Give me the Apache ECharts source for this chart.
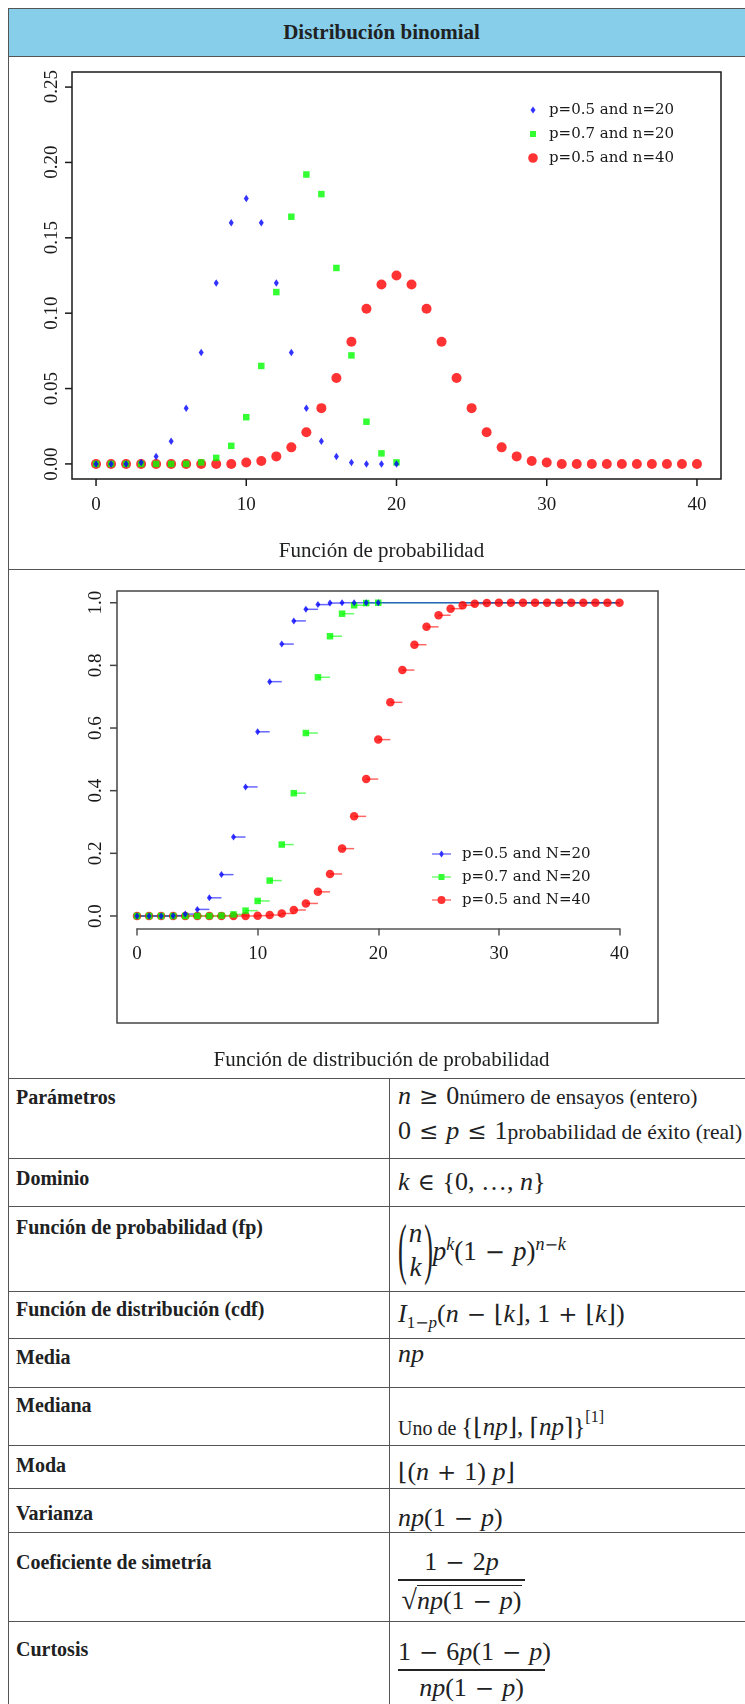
<!DOCTYPE html>
<html><head><meta charset="utf-8">
<script src="https://cdn.jsdelivr.net/npm/echarts@6/dist/echarts.min.js"></script>
<style>
html,body{margin:0;padding:0;background:#fff;}
body{width:745px;height:1704px;position:relative;overflow:hidden;font-family:"Liberation Serif","Times New Roman",serif;color:#202122;}
.hl{position:absolute;left:8px;width:760px;height:1.5px;background:#555;z-index:5;}
.vl{position:absolute;width:1.5px;background:#555;z-index:5;}
.lab{position:absolute;left:16px;font-weight:bold;font-size:20px;line-height:24px;white-space:nowrap;}
.val{position:absolute;left:398px;font-size:21.5px;line-height:24px;white-space:nowrap;}
.m{font-size:26px;font-family:"Liberation Serif",serif;}
.m i, .frac i{font-style:italic;}
.op{font-family:"DejaVu Serif",serif;font-size:23px;margin:0 8px;}
.opn{font-family:"DejaVu Serif",serif;font-size:24px;}
.cap{position:absolute;left:8px;width:747px;text-align:center;font-size:21px;line-height:24px;}
.frac{position:absolute;left:398px;text-align:center;font-size:26px;line-height:26px;white-space:nowrap;}
.bar{position:absolute;height:1.5px;background:#222;}
sup{font-size:15px;}
</style></head>
<body>
<div style="position:absolute;left:8px;top:8px;width:760px;height:48px;background:#87CEEB;"></div>
<div class="cap" style="top:20px;font-weight:bold;font-size:21px;">Distribución binomial</div>
<div id="c1" style="position:absolute;left:0;top:56px;width:745px;height:513px;"></div>
<div id="c2" style="position:absolute;left:0;top:569px;width:745px;height:509px;"></div>
<div class="cap" style="top:538px;">Función de probabilidad</div>
<div class="cap" style="top:1047px;">Función de distribución de probabilidad</div>

<div class="hl" style="top:7.5px"></div>
<div class="hl" style="top:55.5px"></div>
<div class="hl" style="top:568.5px"></div>
<div class="hl" style="top:1077.5px"></div>
<div class="hl" style="top:1157.5px"></div>
<div class="hl" style="top:1205.5px"></div>
<div class="hl" style="top:1290.5px"></div>
<div class="hl" style="top:1337.5px"></div>
<div class="hl" style="top:1386.5px"></div>
<div class="hl" style="top:1444.5px"></div>
<div class="hl" style="top:1487.5px"></div>
<div class="hl" style="top:1531.5px"></div>
<div class="hl" style="top:1620.5px"></div>
<div class="vl" style="left:7.5px;top:7.5px;height:1700px"></div>
<div class="vl" style="left:388.5px;top:1078px;height:630px"></div>

<div class="lab" style="top:1085px">Parámetros</div>
<div class="lab" style="top:1166px">Dominio</div>
<div class="lab" style="top:1215px">Función de probabilidad (fp)</div>
<div class="lab" style="top:1297px">Función de distribución (cdf)</div>
<div class="lab" style="top:1345px">Media</div>
<div class="lab" style="top:1393px">Mediana</div>
<div class="lab" style="top:1453px">Moda</div>
<div class="lab" style="top:1501px">Varianza</div>
<div class="lab" style="top:1550px">Coeficiente de simetría</div>
<div class="lab" style="top:1637px">Curtosis</div>

<div class="val" style="top:1084px"><span class="m"><i>n</i><span class="op">≥</span>0</span>número de ensayos (entero)</div>
<div class="val" style="top:1119px"><span class="m">0<span class="op">≤</span><i>p</i><span class="op">≤</span>1</span>probabilidad de éxito (real)</div>
<div class="val" style="top:1170px"><span class="m"><i>k</i><span class="op">∈</span>{0, …, <i>n</i>}</span></div>
<div class="val" style="top:1217px;height:66px;">
  <span style="display:inline-flex;align-items:center;height:66px;font-size:27px;" class="m">
    <span style="display:inline-block;transform:scaleY(2.6);font-size:26px;">(</span>
    <span style="display:inline-flex;flex-direction:column;align-items:center;line-height:34px;margin:0 2px;"><i>n</i><i>k</i></span>
    <span style="display:inline-block;transform:scaleY(2.6);font-size:26px;">)</span>
    <span style="position:relative;top:-2px;"><i>p</i><sup style="font-size:18px"><i>k</i></sup>(1<span class="op" style="font-size:24px">−</span><i>p</i>)<sup style="font-size:18px"><i>n</i><span class="opn" style="font-size:16px">−</span><i>k</i></sup></span>
  </span>
</div>
<div class="val" style="top:1302px"><span class="m"><i>I</i><sub style="font-size:17px">1<span class="opn" style="font-size:16px">−</span><i>p</i></sub>(<i>n</i><span class="op">−</span><span class="opn">⌊</span><i>k</i><span class="opn">⌋</span>, 1<span class="op">+</span><span class="opn">⌊</span><i>k</i><span class="opn">⌋</span>)</span></div>
<div class="val" style="top:1342px"><span class="m"><i>np</i></span></div>
<div class="val" style="top:1410px;font-size:20px;">Uno de <span class="m" style="font-size:25px">{<span class="opn">⌊</span><i>np</i><span class="opn">⌋</span>, <span class="opn">⌈</span><i>np</i><span class="opn">⌉</span>}</span><sup style="position:relative;top:-5px;font-size:16px;">[1]</sup></div>
<div class="val" style="top:1460px"><span class="m"><span class="opn">⌊</span>(<i>n</i><span class="op">+</span>1) <i>p</i><span class="opn">⌋</span></span></div>
<div class="val" style="top:1506px"><span class="m"><i>np</i>(1<span class="op">−</span><i>p</i>)</span></div>

<div class="frac" style="top:1549px;width:127px;">1<span class="op">−</span>2<i>p</i></div>
<div class="bar" style="left:398px;top:1579px;width:127px;"></div>
<div class="frac" style="top:1587px;width:127px;"><span style="font-size:28px">√</span><span style="border-top:1.5px solid #222;"><i>np</i>(1<span class="op">−</span><i>p</i>)</span></div>
<div class="frac" style="top:1639px;width:147px;">1<span class="op">−</span>6<i>p</i>(1<span class="op">−</span><i>p</i>)</div>
<div class="bar" style="left:398px;top:1669px;width:147px;"></div>
<div class="frac" style="top:1675px;width:147px;"><i>np</i>(1<span class="op">−</span><i>p</i>)</div>

<script>
// ---------- data ----------
const kValues20 = [0,1,2,3,4,5,6,7,8,9,10,11,12,13,14,15,16,17,18,19,20];
const kValues40 = [0,1,2,3,4,5,6,7,8,9,10,11,12,13,14,15,16,17,18,19,20,21,22,23,24,25,26,27,28,29,30,31,32,33,34,35,36,37,38,39,40];
const seriesNamesPmf = ['p=0.5 and n=20','p=0.7 and n=20','p=0.5 and n=40'];
const seriesNamesCdf = ['p=0.5 and N=20','p=0.7 and N=20','p=0.5 and N=40'];
const pmfP05N20 = [0.000,0.000,0.000,0.001,0.005,0.015,0.037,0.074,0.120,0.160,0.176,0.160,0.120,0.074,0.037,0.015,0.005,0.001,0.000,0.000,0.000];
const pmfP07N20 = [0.000,0.000,0.000,0.000,0.000,0.000,0.000,0.001,0.004,0.012,0.031,0.065,0.114,0.164,0.192,0.179,0.130,0.072,0.028,0.007,0.001];
const pmfP05N40 = [0.000,0.000,0.000,0.000,0.000,0.000,0.000,0.000,0.000,0.000,0.001,0.002,0.005,0.011,0.021,0.037,0.057,0.081,0.103,0.119,0.125,0.119,0.103,0.081,0.057,0.037,0.021,0.011,0.005,0.002,0.001,0.000,0.000,0.000,0.000,0.000,0.000,0.000,0.000,0.000,0.000];
const cdfP05N20 = [0.000,0.000,0.000,0.001,0.006,0.021,0.058,0.132,0.252,0.412,0.588,0.748,0.868,0.942,0.979,0.994,0.999,1.000,1.000,1.000,1.000];
const cdfP07N20 = [0.000,0.000,0.000,0.000,0.000,0.000,0.000,0.001,0.005,0.017,0.048,0.113,0.228,0.392,0.584,0.762,0.893,0.965,0.992,0.999,1.000];
const cdfP05N40 = [0.000,0.000,0.000,0.000,0.000,0.000,0.000,0.000,0.000,0.000,0.001,0.003,0.008,0.019,0.040,0.077,0.134,0.215,0.318,0.437,0.563,0.682,0.785,0.866,0.923,0.960,0.981,0.992,0.997,0.999,1.000,1.000,1.000,1.000,1.000,1.000,1.000,1.000,1.000,1.000,1.000];
const xTickValues = [0,10,20,30,40];
const yPmfTickValues = [0,0.05,0.10,0.15,0.20,0.25];
const yCdfTickValues = [0,0.2,0.4,0.6,0.8,1.0];
// tick ranges (R pretty ticks)
const xTickMin = 0, xTickMax = 40, xTickStep = 10;
const yPmfTickMin = 0, yPmfTickMax = 0.25, yPmfTickStep = 0.05;
const yCdfTickMin = 0, yCdfTickMax = 1, yCdfTickStep = 0.2;

// ---------- styles ----------
const BLUE='#0000ff', GREEN='#00ff00', RED='#ff0000';
const INK='#1a1a1a';
const SERIF='Liberation Serif';
const TICKFS = 19;
const TICKLEN = 7;
const pairs = (ks, vs) => ks.map((k,i)=>[k, vs[i]]);
const hidden = (gi) => ({gridIndex:gi, type:'value', show:false, min:0, max:1});
function labelAxis(gi, pos, min, max, step, margin, extra){
  return {gridIndex:gi, type:'value', min:min, max:max, interval:step, position:pos,
    axisLine:{show:false, onZero:false}, axisTick:{show:false}, splitLine:{show:false},
    axisLabel:Object.assign({margin:margin, fontSize:TICKFS, color:INK, fontFamily:SERIF}, extra||{})};
}
// tick marks placed through the chart's own scales
function tickMarks(chart, xVals, yVals, xEdgeY, yEdgeX, color){
  const els = [];
  xVals.forEach(v=>{
    const px = chart.convertToPixel({xAxisIndex:0}, v);
    els.push({type:'line', silent:true, shape:{x1:px, y1:xEdgeY, x2:px, y2:xEdgeY+TICKLEN}, style:{stroke:color, lineWidth:1.5}});
  });
  yVals.forEach(v=>{
    const py = chart.convertToPixel({yAxisIndex:0}, v);
    els.push({type:'line', silent:true, shape:{x1:yEdgeX-TICKLEN, y1:py, x2:yEdgeX, y2:py}, style:{stroke:color, lineWidth:1.5}});
  });
  return els;
}

// ---------- chart 1 ----------
const c1 = echarts.init(document.getElementById('c1'));
const c1Grid = {left:72, top:16, width:649, height:407};
c1.setOption({
  animation:false,
  grid:[
    Object.assign({show:true, borderColor:INK, borderWidth:1.5, backgroundColor:'transparent'}, c1Grid),
    {left:96, top:423, width:601, height:7},
    {left:65, top:30.7, width:7, height:377.3}
  ],
  xAxis:[
    {gridIndex:0, type:'value', min:-1.6, max:41.6, show:false},
    labelAxis(1, 'bottom', xTickMin, xTickMax, xTickStep, 10),
    hidden(2)
  ],
  yAxis:[
    {gridIndex:0, type:'value', min:-0.01, max:0.26, show:false},
    hidden(1),
    labelAxis(2, 'left', yPmfTickMin, yPmfTickMax, yPmfTickStep, 3, {rotate:90, formatter:v=>v.toFixed(2)})
  ],
  legend:{orient:'vertical', left:528, top:46.5, padding:0, itemGap:9, itemWidth:16, itemHeight:10, selectedMode:false,
    textStyle:{fontFamily:'DejaVu Serif', fontSize:15, color:INK},
    data:[
      {name:seriesNamesPmf[0], icon:'path://M0,0M16,10M5,1.5L7.5,5L5,8.5L2.5,5Z'},
      {name:seriesNamesPmf[1], icon:'path://M0,0M16,10M2,2H8V8H2Z'},
      {name:seriesNamesPmf[2], icon:'path://M0,0M16,10M9.8,5A4.8,4.8 0 1 1 0.2,5A4.8,4.8 0 1 1 9.8,5Z'}
    ]},
  series:[
    {name:seriesNamesPmf[2], type:'scatter', xAxisIndex:0, yAxisIndex:0, clip:false, data:pairs(kValues40,pmfP05N40), symbol:'circle', symbolSize:10, itemStyle:{color:RED}},
    {name:seriesNamesPmf[1], type:'scatter', xAxisIndex:0, yAxisIndex:0, clip:false, data:pairs(kValues20,pmfP07N20), symbol:'rect', symbolSize:6.5, itemStyle:{color:GREEN}},
    {name:seriesNamesPmf[0], type:'scatter', xAxisIndex:0, yAxisIndex:0, clip:false, data:pairs(kValues20,pmfP05N20), symbol:'diamond', symbolSize:[5,7.5], itemStyle:{color:BLUE}}
  ]
});
c1.setOption({graphic:{elements:tickMarks(c1, xTickValues, yPmfTickValues, c1Grid.top + c1Grid.height, c1Grid.left, INK)}});

// ---------- chart 2 ----------
const lastK = kValues40[kValues40.length-1];
function stepData(ks, vs){
  return ks.map((k,i)=>[k, vs[i], i < ks.length-1 ? ks[i+1] : lastK]);
}
function stepSeries(name, ks, vs, color){
  return {name:name+' step', type:'custom', xAxisIndex:0, yAxisIndex:0, data:stepData(ks,vs), encode:{x:0,y:1},
    renderItem:function(params, api){
      const p1 = api.coord([api.value(0), api.value(1)]);
      const p2 = api.coord([api.value(2), api.value(1)]);
      return {type:'line', shape:{x1:p1[0], y1:p1[1], x2:p2[0], y2:p2[1]}, style:{stroke:color, lineWidth:1.5, opacity:0.6}};
    }};
}
const c2 = echarts.init(document.getElementById('c2'));
const c2Box = {x:117, y:22, width:541, height:432};
c2.setOption({
  animation:false,
  grid:[
    {left:117.7, top:21.2, width:521.1, height:338.3},
    {left:137, top:358, width:482.5, height:1.5},
    {left:110, top:33.7, width:7, height:313.3}
  ],
  xAxis:[
    {gridIndex:0, type:'value', min:-1.6, max:41.6, show:false},
    {gridIndex:1, type:'value', min:xTickMin, max:xTickMax, interval:xTickStep, position:'bottom', splitLine:{show:false},
      axisLine:{show:true, onZero:false, lineStyle:{color:'#555', width:1.5}},
      axisTick:{show:true, length:TICKLEN, lineStyle:{color:'#555', width:1.5}},
      axisLabel:{margin:16, fontSize:TICKFS, color:INK, fontFamily:SERIF}},
    hidden(2)
  ],
  yAxis:[
    {gridIndex:0, type:'value', min:-0.04, max:1.04, show:false},
    hidden(1),
    labelAxis(2, 'left', yCdfTickMin, yCdfTickMax, yCdfTickStep, 4, {rotate:90, formatter:v=>v.toFixed(1)})
  ],
  legend:{orient:'vertical', left:432, top:277.5, padding:0, itemGap:8, itemWidth:25, itemHeight:10, selectedMode:false,
    textStyle:{fontFamily:'DejaVu Serif', fontSize:15, color:INK},
    data:[
      {name:seriesNamesCdf[0], icon:'path://M0,0M25,10M0,4.4H19V5.6H0Z M9.5,1.5L12,5L9.5,8.5L7,5Z'},
      {name:seriesNamesCdf[1], icon:'path://M0,0M25,10M0,4.4H19V5.6H0Z M6.5,2H12.5V8H6.5Z'},
      {name:seriesNamesCdf[2], icon:'path://M0,0M25,10M0,4.4H19V5.6H0Z M13.5,5A4,4 0 1 1 5.5,5A4,4 0 1 1 13.5,5Z'}
    ]},
  series:[
    stepSeries(seriesNamesCdf[2], kValues40, cdfP05N40, RED),
    {name:seriesNamesCdf[2], type:'scatter', xAxisIndex:0, yAxisIndex:0, clip:false, data:pairs(kValues40,cdfP05N40), symbol:'circle', symbolSize:8.5, itemStyle:{color:RED}},
    stepSeries(seriesNamesCdf[1], kValues20, cdfP07N20, GREEN),
    {name:seriesNamesCdf[1], type:'scatter', xAxisIndex:0, yAxisIndex:0, clip:false, data:pairs(kValues20,cdfP07N20), symbol:'rect', symbolSize:6.5, itemStyle:{color:GREEN}},
    stepSeries(seriesNamesCdf[0], kValues20, cdfP05N20, BLUE),
    {name:seriesNamesCdf[0], type:'scatter', xAxisIndex:0, yAxisIndex:0, clip:false, data:pairs(kValues20,cdfP05N20), symbol:'diamond', symbolSize:[5,7], itemStyle:{color:BLUE}}
  ]
});
c2.setOption({graphic:{elements:
  [{type:'rect', silent:true, shape:c2Box, style:{fill:'none', stroke:'#444', lineWidth:1.5}}]
  .concat(tickMarks(c2, [], yCdfTickValues, 0, c2Box.x, '#444'))}});
</script>
</body></html>
